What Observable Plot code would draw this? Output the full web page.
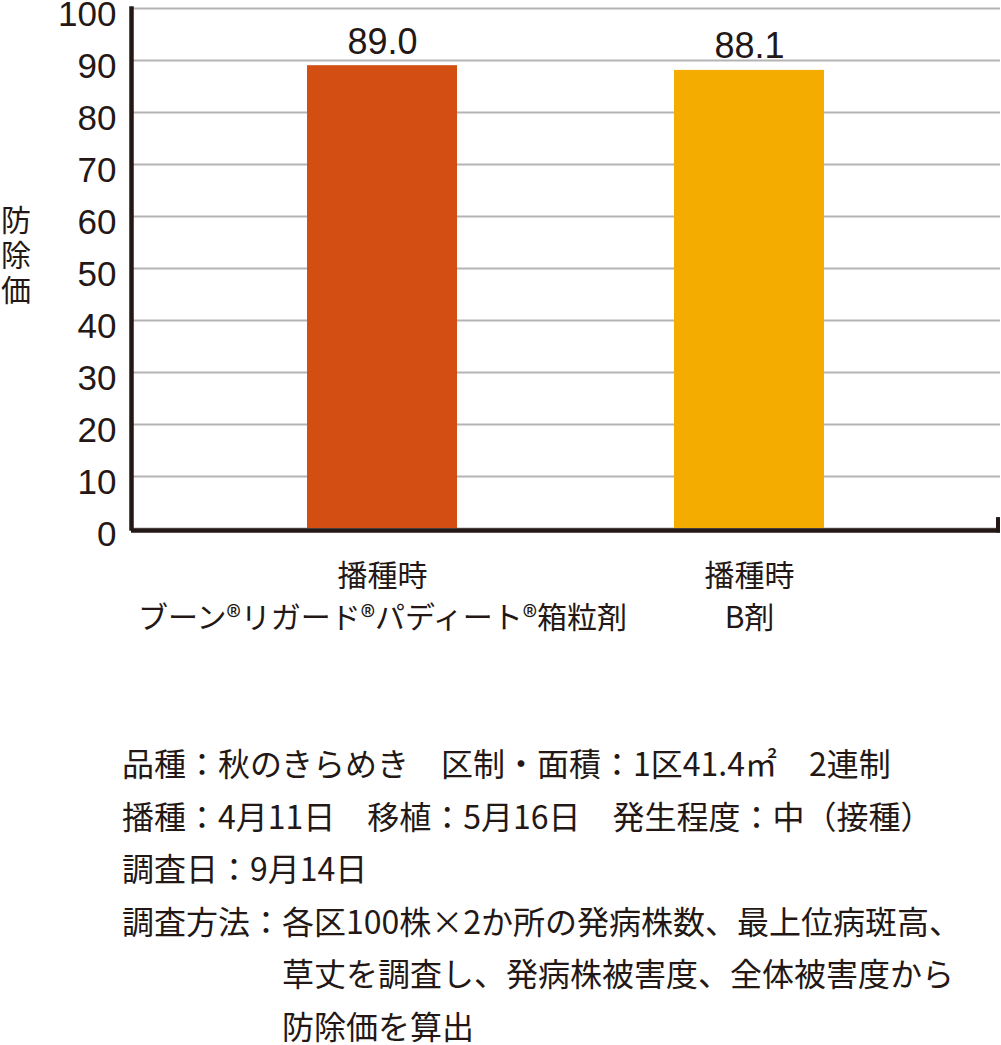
<!DOCTYPE html>
<html>
<head>
<meta charset="utf-8">
<script src="https://cdn.jsdelivr.net/npm/d3@7"></script>
<script src="https://cdn.jsdelivr.net/npm/@observablehq/plot@0.6"></script>
<style>
  html, body { margin: 0; padding: 0; background: #fff; }
  #wrap { position: relative; width: 1001px; height: 1045px; overflow: hidden; color: #231815; }
  #ylabel { position: absolute; left: 0; top: 201px; font-family: "Noto Sans CJK JP", sans-serif; font-size: 30px; line-height: 35px; width: 32px; text-align: center; }
  #notes { position: absolute; left: 122px; top: 736px; font-family: "Noto Sans CJK JP", sans-serif; font-size: 32px; line-height: 52.5px; white-space: nowrap; }
  #notes .indent { padding-left: 5em; }
</style>
</head>
<body>
<div id="wrap">
  <div id="chart"></div>
  <div id="ylabel"></div>
  <div id="notes"></div>
</div>
<script>
const categories = ["播種時\nブーン®リガード®パディート®箱粒剤", "播種時\nB剤"];
const values = [89.0, 88.1];
const barColors = ["#d24e12", "#f5ac00"];
const yTicks = [0, 10, 20, 30, 40, 50, 60, 70, 80, 90, 100];
const yLabel = ["防", "除", "価"];
const noteLines = [
  "品種：秋のきらめき　区制・面積：1区41.4㎡　2連制",
  "播種：4月11日　移植：5月16日　発生程度：中（接種）",
  "調査日：9月14日",
  "調査方法：各区100株×2か所の発病株数、最上位病斑高、"
];
const noteIndented = [
  "草丈を調査し、発病株被害度、全体被害度から",
  "防除価を算出"
];

const data = categories.map((c, i) => ({cat: c, value: values[i]}));
const ink = "#231815";

const rightTick = (index, scales, values, dim) => {
  const x = dim.width - dim.marginRight - 2;
  const line = document.createElementNS("http://www.w3.org/2000/svg", "line");
  line.setAttribute("x1", x);
  line.setAttribute("x2", x);
  line.setAttribute("y1", scales.y(0) + 4.5);
  line.setAttribute("y2", scales.y(2.1));
  line.setAttribute("stroke", ink);
  line.setAttribute("stroke-width", 4);
  return line;
};

const chart = Plot.plot({
  width: 1001,
  height: 660,
  marginLeft: 131,
  marginRight: 1,
  marginTop: 8,
  marginBottom: 132,
  style: {fontFamily: "'Liberation Sans', 'Noto Sans CJK JP', sans-serif", color: ink, background: "#fff"},
  x: {domain: categories, paddingInner: 0.592, paddingOuter: 0.478, axis: null},
  y: {domain: [0, 100], axis: null},
  color: {domain: categories, range: barColors},
  marks: [
    Plot.gridY(yTicks, {stroke: "#b4b4b4", strokeOpacity: 1, strokeWidth: 2}),
    Plot.barY(data, {x: "cat", y: "value", fill: "cat"}),
    Plot.axisY(yTicks, {tickSize: 0, tickPadding: 15, fontSize: 35, dy: 6, fill: ink, label: null}),
    Plot.axisX({tickSize: 0, tickPadding: 28, fontSize: 30, lineHeight: 1.4, fill: ink, label: null, fontFamily: "'Noto Sans CJK JP', sans-serif"}),
    Plot.text(data, {x: "cat", y: "value", text: d => d.value.toFixed(1), lineAnchor: "bottom", dy: -12, fontSize: 36, fill: ink}),
    Plot.frame({anchor: "left", stroke: ink, strokeWidth: 4.5}),
    Plot.ruleY([0], {stroke: ink, strokeWidth: 4.5, dy: 2}),
    rightTick
  ]
});
document.getElementById("chart").appendChild(chart);

document.getElementById("ylabel").innerHTML = yLabel.join("<br>");
const notes = document.getElementById("notes");
noteLines.forEach(t => { const d = document.createElement("div"); d.textContent = t; notes.appendChild(d); });
noteIndented.forEach(t => { const d = document.createElement("div"); d.className = "indent"; d.textContent = t; notes.appendChild(d); });
</script>
</body>
</html>
